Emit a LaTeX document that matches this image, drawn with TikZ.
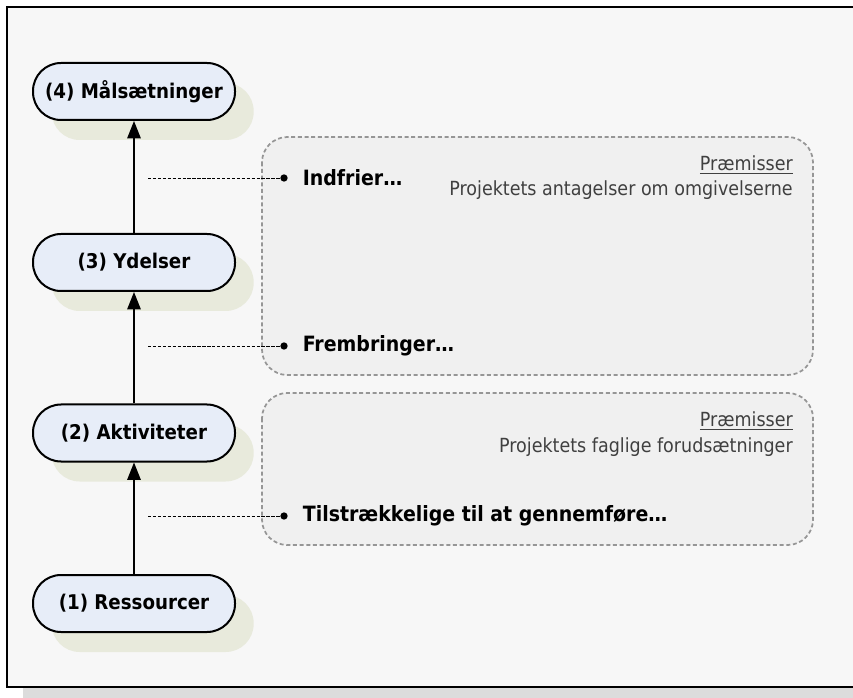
\documentclass[tikz,border=0pt]{standalone}
\usepackage{fontspec}
\setmainfont{DejaVu Sans Condensed}
\usetikzlibrary{arrows.meta,shadows,positioning}
\definecolor{pagegray}{RGB}{247,247,247}
\definecolor{shadegray}{RGB}{220,220,220}
\definecolor{levelfill}{RGB}{231,237,248}
\definecolor{levelshade}{RGB}{232,234,220}
\definecolor{boxfill}{RGB}{240,240,240}
\definecolor{boxline}{RGB}{150,150,150}
\definecolor{premtext}{RGB}{64,64,64}
\begin{document}
\begin{tikzpicture}[x=0.75pt,y=0.75pt,yscale=-1,xscale=1,
  level/.style={draw,line width=1.5pt,fill=levelfill,rounded corners=21pt,
    minimum width=151.5pt,minimum height=42.75pt,inner sep=0pt,
    font=\bfseries\fontsize{15.2}{17}\selectfont,
    drop shadow={shadow xshift=14pt,shadow yshift=-15pt,fill=levelshade,opacity=1}},
  flow/.style={line width=1.2pt,-{Triangle[length=13pt,width=10pt]}},
  premisebox/.style={draw=boxline,fill=boxfill,line width=1.3pt,
    dash pattern=on 3pt off 2pt,rounded corners=19pt},
  dot/.style={circle,fill=black,inner sep=0pt,minimum size=5.5pt},
  leader/.style={line width=0.5pt,dash pattern=on 2.5pt off 1.2pt},
  item/.style={inner sep=0pt,font=\bfseries\fontsize{15.8}{18}\selectfont},
  premise/.style={inner sep=0pt,text=premtext,font=\fontsize{14.6}{17}\selectfont}]
\useasboundingbox (0,0) rectangle (853,698);

% Frame with shadow
\fill[shadegray] (23,20) rectangle (880,710);
\draw[fill=pagegray,line width=1.5pt] (7,7) rectangle (870,687);

% Premise boxes
\draw[premisebox] (262,137) rectangle (813,375);
\draw[premisebox] (262,393) rectangle (813,545);

% Levels
\node[level] (n4) at (134,91.5) {(4) Målsætninger};
\node[level] (n3) at (134,262.5) {(3) Ydelser};
\node[level] (n2) at (134,433) {(2) Aktiviteter};
\node[level] (n1) at (134,603.5) {(1) Ressourcer};

\draw[flow] (n1.north) -- (n2.south);
\draw[flow] (n2.north) -- (n3.south);
\draw[flow] (n3.north) -- (n4.south);

% Bullets
\node[dot] (d3) at (284,178) {};
\node[dot] (d2) at (284,346) {};
\node[dot] (d1) at (284,516) {};
\node[item,anchor=west,right=11pt of d3] (t3) {Indfrier…};
\node[item,anchor=west,right=11pt of d2] (t2) {Frembringer…};
\node[item,anchor=west,right=11pt of d1] (t1) {Tilstrækkelige til at gennemføre…};

\coordinate (c3) at (148,178);
\coordinate (c2) at (148,346);
\coordinate (c1) at (148,516);
\draw[leader] (c3) -- (d3);
\draw[leader] (c2) -- (d2);
\draw[leader] (c1) -- (d1);

% Text Node
\node[premise,anchor=east] (p2) at (793,165) {\underline{Præmisser}};
\node[premise,anchor=east] (q2) at (793,190) {Projektets antagelser om omgivelserne};
\node[premise,anchor=east] (p1) at (793,421) {\underline{Præmisser}};
\node[premise,anchor=east] (q1) at (793,447) {Projektets faglige forudsætninger};

\end{tikzpicture}
\end{document}
